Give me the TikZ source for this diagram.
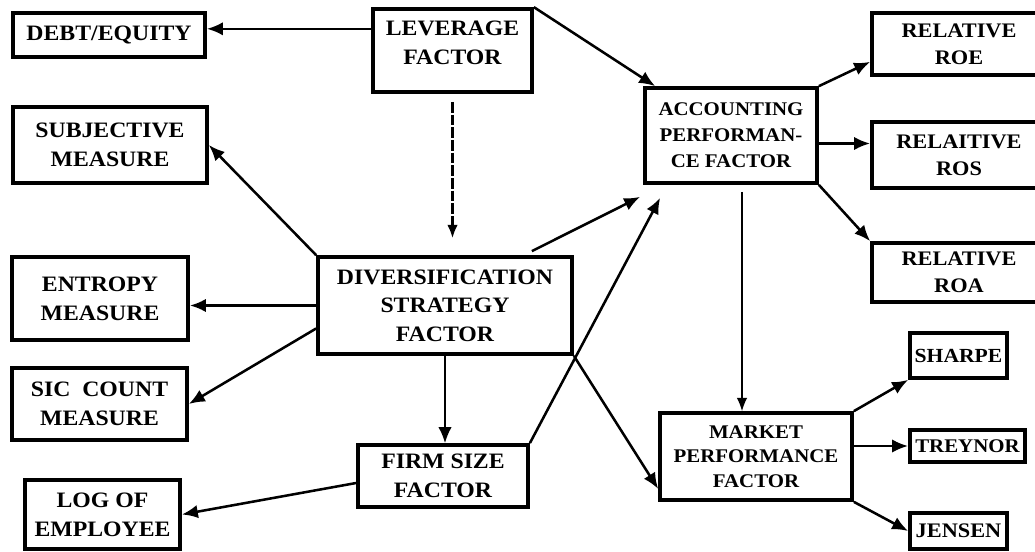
\documentclass[tikz,border=0pt]{standalone}
\usepackage{fontspec}
\setmainfont{Liberation Serif}[FakeStretch=1.08]
\usetikzlibrary{arrows.meta,calc}
\newcommand{\fs}[2]{\bfseries\fontsize{#1}{#2}\selectfont}
\tikzset{
  box/.style={draw, line width=2.8pt, inner sep=0pt, align=center, font=\fs{16.5}{21.5}},
  place/.style n args={4}{minimum width={(#3-#1)*0.75pt},
    minimum height={(#4-#2)*0.75pt}, at={({(#1+#3)/2},{(#2+#4)/2})}},
  link/.style={line width=1.9pt, -{Latex[length=12pt,width=10pt]}},
  thinlink/.style={line width=1.0pt, -{Latex[length=10pt,width=8pt]}},
}
\begin{document}
\begin{tikzpicture}[x=0.75pt, y=-0.75pt]
\useasboundingbox (0,0) rectangle (1035,552);

% boxes
\node[box, place={13}{13}{205}{57}]    (debt)    {DEBT/EQUITY};
\node[box, place={373}{9}{532}{92}, text depth=12pt] (lev) {LEVERAGE\\FACTOR};
\node[box, place={13}{107}{207}{183}]  (subj)    {SUBJECTIVE\\MEASURE};
\node[box, place={12}{257}{188}{340}]  (entropy) {ENTROPY\\MEASURE};
\node[box, place={318}{257}{572}{354}] (div)     {DIVERSIFICATION\\STRATEGY\\FACTOR};
\node[box, place={12}{368}{187}{440}]  (sic)     {SIC\ \ COUNT\\MEASURE};
\node[box, place={25}{480}{180}{549}]  (logemp)  {LOG OF\\EMPLOYEE};
\node[box, place={358}{445}{528}{507}] (firm)    {FIRM SIZE\\FACTOR};
\node[box, place={645}{88}{817}{183}, font=\fs{14.5}{19.5}] (acc) {ACCOUNTING\\PERFORMAN-\\CE FACTOR};
\node[box, place={872}{13}{1046}{75}, font=\fs{15.5}{20}]  (roe) {RELATIVE\\ROE};
\node[box, place={872}{122}{1046}{188}, font=\fs{15.5}{20}] (ros) {RELAITIVE\\ROS};
\node[box, place={872}{243}{1046}{302}, font=\fs{15.5}{20}] (roa) {RELATIVE\\ROA};
\node[box, place={660}{413}{852}{500}, font=\fs{14.5}{18.5}] (market) {MARKET\\PERFORMANCE\\FACTOR};
\node[box, place={910}{333}{1007}{378}, font=\fs{15}{18}]   (sharpe)  {SHARPE};
\node[box, place={910}{430}{1025}{462}, font=\fs{14.5}{18}] (treynor) {TREYNOR};
\node[box, place={910}{513}{1007}{549}, font=\fs{15.5}{18}] (jensen)  {JENSEN};

% free arrow ends just below the accounting box
\coordinate (accin1) at ($(acc.south west)+(-3,12)$);
\coordinate (accin2) at ($(acc.south west)+(17,13)$);
\coordinate (accout) at ($(acc.south)+(11,7)$);

% leverage factor
\coordinate (levl) at ($(lev.north west)!0.25!(lev.south west)$);
\draw[link] (levl) -- (debt.east |- levl);
\draw[line width=1.7pt, dash pattern=on 8pt off 1.5pt, -{Latex[length=10pt,width=8pt]}]
  ($(lev.south)+(0,8)$) -- ($(lev.south |- div.north)+(0,-17)$);
\draw[link] (lev.north east) -- ($(acc.north west)+(12,0)$);

% diversification strategy factor
\draw[link] (div.north west) -- (subj.east);
\draw[link] (div.west) -- (entropy.east |- div.west);
\draw[link] ($(div.west)+(0,23)$) -- (sic.east);
\draw[link, line width=1.3pt] (div.south) -- (div.south |- firm.north);
\draw[link] ($(div.north east)+(-42,-4)$) -- (accin1);
\draw[link] (div.south east) -- ($(market.south west)+(0,-13)$);

% firm size factor
\draw[link] (firm.north east) -- (accin2);
\draw[link] ($(firm.west)+(0,7)$) -- (logemp.east);

% accounting performance factor
\draw[thinlink] (accout) -- (accout |- market.north);
\draw[link] (acc.north east) -- ($(roe.south west)+(0,-15)$);
\draw[link] ($(acc.east)+(0,8)$) -- (ros.west |- {$(acc.east)+(0,8)$});
\draw[link] (acc.south east) -- (roa.north west);

% market performance factor
\draw[link] (market.north east) -- (sharpe.south west);
\draw[link] (market.east |- treynor.west) -- (treynor.west);
\draw[link] (market.south east) -- (jensen.west);
\end{tikzpicture}
\end{document}
